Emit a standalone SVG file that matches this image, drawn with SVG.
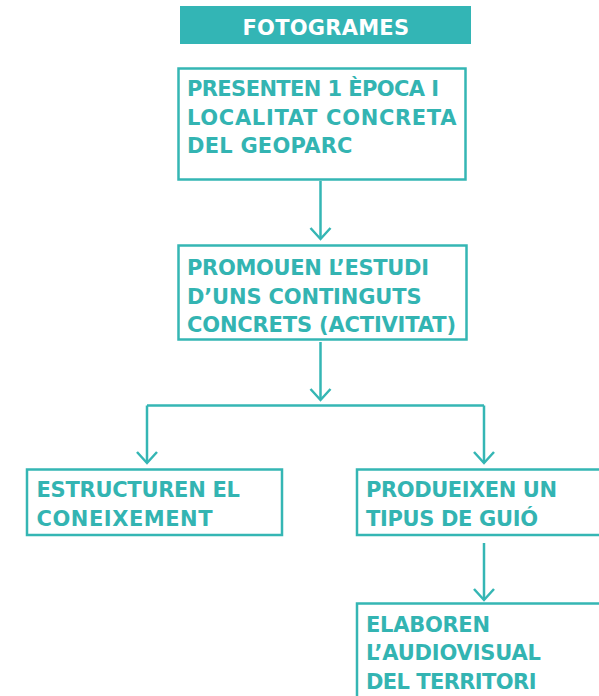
<svg xmlns="http://www.w3.org/2000/svg" width="599" height="696" viewBox="0 0 599 696">
<defs>
<style>
.box{fill:#ffffff;stroke:#35b6b4;stroke-width:2.5}
.t{font-family:"DejaVu Sans",Inter,"Liberation Sans",sans-serif;font-weight:700;font-size:21px;fill:#33b4b2}
.title{font-family:"DejaVu Sans",Inter,"Liberation Sans",sans-serif;font-weight:700;font-size:21px;fill:#ffffff}
.c{fill:none;stroke:#35b6b4;stroke-width:2.5}
</style>
<marker id="ah" markerUnits="userSpaceOnUse" viewBox="-12 -12 14 24" refX="0" refY="0" markerWidth="14" markerHeight="24" orient="auto" overflow="visible">
<path d="M-11,-10 L0,0 L-11,10" fill="none" stroke="#35b6b4" stroke-width="2.5"/>
</marker>
</defs>
<rect width="599" height="696" fill="#ffffff"/>
<g id="title">
<rect x="180" y="6" width="291" height="38" fill="#33b5b5"/>
<text class="title" x="242.5" y="34.5" textLength="166.5" lengthAdjust="spacing">FOTOGRAMES</text>
</g>
<g id="connectors">
<path class="c" d="M320.5,181 V239" marker-end="url(#ah)"/>
<path class="c" d="M320.5,342 V400" marker-end="url(#ah)"/>
<path class="c" d="M147,405.5 H484"/>
<path class="c" d="M147,405.5 V463" marker-end="url(#ah)"/>
<path class="c" d="M484,405.5 V463" marker-end="url(#ah)"/>
<path class="c" d="M484,543 V600" marker-end="url(#ah)"/>
</g>
<g id="n1">
<rect class="box" x="178.5" y="68.5" width="287" height="111"/>
<text class="t" x="187" y="96" textLength="252" lengthAdjust="spacing">PRESENTEN 1 ÈPOCA I</text>
<text class="t" x="187" y="125" textLength="269.5" lengthAdjust="spacing">LOCALITAT CONCRETA</text>
<text class="t" x="187" y="153" textLength="165.5" lengthAdjust="spacing">DEL GEOPARC</text>
</g>
<g id="n2">
<rect class="box" x="178.5" y="245.5" width="288" height="94"/>
<text class="t" x="187" y="275" textLength="242" lengthAdjust="spacing">PROMOUEN L’ESTUDI</text>
<text class="t" x="187" y="303.5" textLength="234.5" lengthAdjust="spacing">D’UNS CONTINGUTS</text>
<text class="t" x="187" y="332" textLength="269" lengthAdjust="spacing">CONCRETS (ACTIVITAT)</text>
</g>
<g id="n3">
<rect class="box" x="27" y="469.5" width="255" height="65.5"/>
<text class="t" x="36.5" y="497" textLength="203.5" lengthAdjust="spacing">ESTRUCTUREN EL</text>
<text class="t" x="36.5" y="526" textLength="176" lengthAdjust="spacing">CONEIXEMENT</text>
</g>
<g id="n4">
<rect class="box" x="357" y="469.5" width="260" height="65.5"/>
<text class="t" x="366" y="497" textLength="191" lengthAdjust="spacing">PRODUEIXEN UN</text>
<text class="t" x="366" y="526" textLength="172" lengthAdjust="spacing">TIPUS DE GUIÓ</text>
</g>
<g id="n5">
<rect class="box" x="357" y="603.5" width="260" height="110"/>
<text class="t" x="366" y="632" textLength="124" lengthAdjust="spacing">ELABOREN</text>
<text class="t" x="366" y="660" textLength="175" lengthAdjust="spacing">L’AUDIOVISUAL</text>
<text class="t" x="366" y="688.5" textLength="170.5" lengthAdjust="spacing">DEL TERRITORI</text>
</g>
</svg>
